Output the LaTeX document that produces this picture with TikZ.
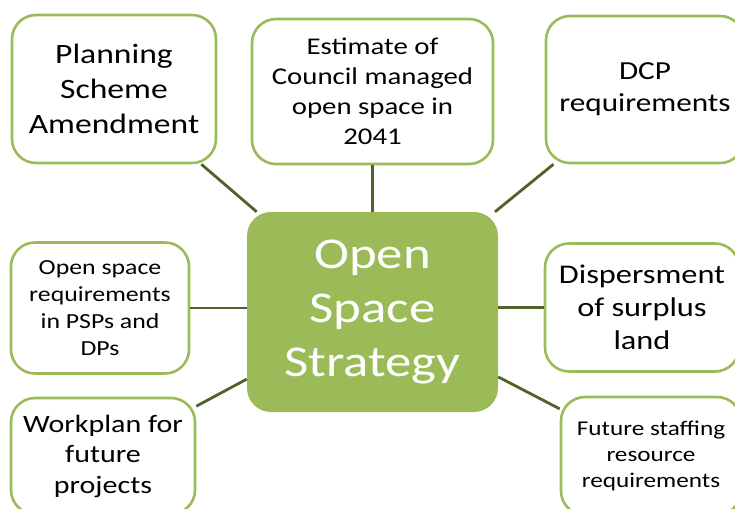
\documentclass[tikz,border=0pt]{standalone}
\usepackage{fontspec}
\setmainfont{Carlito}[FakeStretch=1.2]
\definecolor{leaf}{HTML}{9BBB59}
\definecolor{stem}{HTML}{4F6228}
\begin{document}
\begin{tikzpicture}[x=1pt,y=-1pt,
  topic/.style={draw=leaf, line width=2.6pt, fill=white, rounded corners=24pt,
    align=center, inner sep=0pt, text=black},
  hub/.style={fill=leaf, rounded corners=24pt, align=center, inner sep=0pt, text=white,
    minimum width=251pt, minimum height=200pt,
    font=\fontsize{44}{54}\selectfont},
  link/.style={draw=stem, line width=2.8pt}]
\useasboundingbox (0,0) rectangle (735,508);
\clip (0,0) rectangle (735,508);

% central topic
\node[hub] (ctr) at (372.5,312) {Open\\Space\\Strategy};

% surrounding topics
\node[topic, minimum width=204pt, minimum height=148pt,
  font=\fontsize{28}{35}\selectfont] (plan) at (114,89) {Planning\\Scheme\\Amendment};
\node[topic, minimum width=241pt, minimum height=145pt,
  font=\fontsize{24}{30}\selectfont] (est) at (372.5,91.5) {Estimate of\\Council managed\\open space in\\2041};
\node[topic, minimum width=198pt, minimum height=147pt,
  font=\fontsize{26}{32}\selectfont] (dcp) at (645,89.5) {DCP\\requirements};
\node[topic, minimum width=178pt, minimum height=131pt,
  font=\fontsize{21.5}{27}\selectfont] (osr) at (100,308) {Open space\\requirements\\in PSPs and\\DPs};
\node[topic, minimum width=194pt, minimum height=128pt,
  font=\fontsize{27}{33}\selectfont] (disp) at (642,307.5) {Dispersment\\of surplus\\land};
\node[topic, minimum width=184pt, minimum height=116pt,
  font=\fontsize{25}{30.5}\selectfont] (work) at (103,456) {Workplan for\\future\\projects};
\node[topic, minimum width=180pt, minimum height=118pt,
  font=\fontsize{21}{26}\selectfont] (fut) at (651,456) {Future staffing\\resource\\requirements};

% connectors
\draw[link] (plan) -- (ctr);
\draw[link] (est) -- (ctr);
\draw[link] (dcp) -- (ctr);
\draw[link] (osr.east) -- (ctr.west |- osr.east);
\draw[link] (disp.west) -- (ctr.east |- disp.west);
\draw[link] (work) -- (ctr);
\draw[link] (fut) -- (ctr);
\end{tikzpicture}
\end{document}
